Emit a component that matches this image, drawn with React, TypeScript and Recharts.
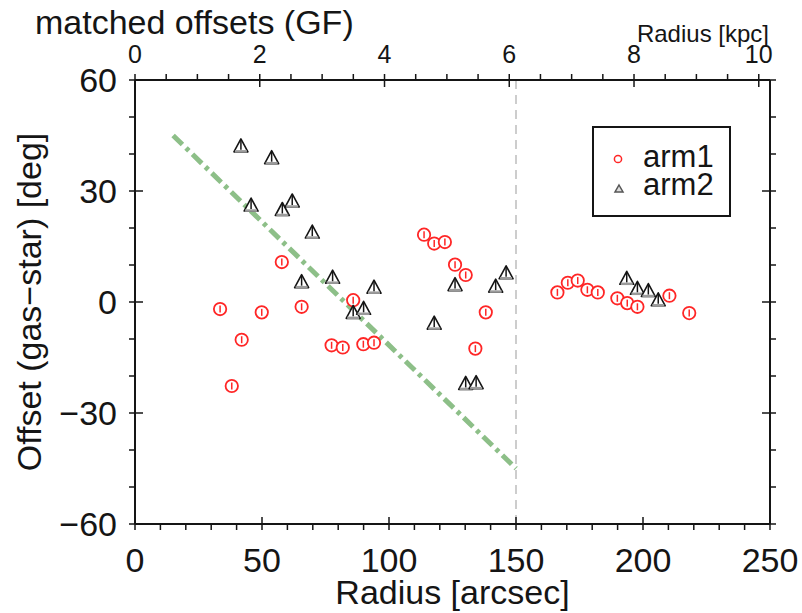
import React from 'react';
import { ScatterChart, Scatter, XAxis, YAxis, ReferenceLine, Legend, Label } from 'recharts';

const FONT = '"Liberation Sans", Arial, Helvetica, sans-serif';

// arm1 (red circles)
const arm1Radius = [
  33.5, 38.1, 42.0, 49.9, 57.8, 65.6, 77.4, 81.8, 85.9, 89.9, 94.1, 113.8, 117.8, 122.0,
  126.0, 130.2, 138.1, 134.0, 166.3, 170.4, 174.3, 178.1, 182.2, 189.9, 193.8, 197.8, 210.4, 218.2,
];
const arm1Offset = [
  -1.9, -22.7, -10.2, -2.8, 10.8, -1.3, -11.7, -12.3, 0.5, -11.4, -11.0, 18.2, 15.8, 16.2,
  10.1, 7.3, -2.8, -12.6, 2.6, 5.2, 5.8, 3.3, 2.6, 1.0, -0.3, -1.3, 1.7, -3.0,
];

// arm2 (black triangles)
const arm2Radius = [
  41.7, 45.7, 53.8, 58.0, 61.9, 69.8, 65.6, 77.8, 85.9, 90.0, 94.1, 117.8, 126.0, 130.2,
  134.3, 142.0, 146.1, 193.6, 197.8, 202.1, 206.0,
];
const arm2Offset = [
  42.2, 26.2, 39.0, 25.0, 27.3, 18.9, 5.5, 6.7, -2.8, -1.7, 4.0, -5.7, 4.7, -22.0,
  -21.8, 4.3, 7.9, 6.4, 3.7, 3.1, 0.6,
];

// green dash-dot guide and the dashed boundary
const fitLine = [
  { x: 15, y: 45 },
  { x: 150, y: -45 },
];
const boundaryRadius = 150;

// axes
const radiusTicks = [0, 10, 20, 30, 40, 50, 60, 70, 80, 90, 100, 110, 120, 130, 140, 150, 160, 170, 180, 190, 200, 210, 220, 230, 240, 250];
const radiusLabels = [0, 50, 100, 150, 200, 250];
const kpcTicks = [0, 0.5, 1, 1.5, 2, 2.5, 3, 3.5, 4, 4.5, 5, 5.5, 6, 6.5, 7, 7.5, 8, 8.5, 9, 9.5, 10];
const kpcLabels = [0, 2, 4, 6, 8, 10];
const kpcMax = 10.18;
const offsetTicks = [-60, -50, -40, -30, -20, -10, 0, 10, 20, 30, 40, 50, 60];
const offsetLabels = [-60, -30, 0, 30, 60];

const arm1 = arm1Radius.map((x, i) => ({ x, y: arm1Offset[i] }));
const arm2 = arm2Radius.map((x, i) => ({ x, y: arm2Offset[i] }));
// anchors the kpc axis (drawn as nothing)
const kpcAnchor = kpcLabels.map((k) => ({ k, y: 0 }));

const INK = '#151515';
const fmt = (v: number) => (v < 0 ? `\u2212${Math.abs(v)}` : `${v}`);

const BottomTick = ({ x, y, payload }: any) => {
  const major = radiusLabels.includes(payload.value);
  return (
    <g>
      <line x1={x} y1={y} x2={x} y2={y - (major ? 13 : 6)} stroke={INK} strokeWidth={1.5} />
      {major && (
        <text x={x} y={y + 42} textAnchor="middle" fontSize={34} fontFamily={FONT} fill={INK}>
          {payload.value}
        </text>
      )}
    </g>
  );
};

const TopTick = ({ x, y, payload }: any) => {
  const major = kpcLabels.includes(payload.value);
  return (
    <g>
      <line x1={x} y1={y} x2={x} y2={y + (major ? 13 : 6)} stroke={INK} strokeWidth={1.5} />
      {major && (
        <text x={x} y={y - 11} textAnchor="middle" fontSize={25} fontFamily={FONT} fill={INK}>
          {payload.value}
        </text>
      )}
    </g>
  );
};

const LeftTick = ({ x, y, payload }: any) => {
  const major = offsetLabels.includes(payload.value);
  return (
    <g>
      <line x1={x} y1={y} x2={x + (major ? 14 : 7)} y2={y} stroke={INK} strokeWidth={1.5} />
      {major && (
        <text x={x - 12} y={y + 12} textAnchor="end" fontSize={34} fontFamily={FONT} fill={INK}>
          {fmt(payload.value)}
        </text>
      )}
    </g>
  );
};

const RightTick = ({ x, y, payload }: any) => {
  const major = offsetLabels.includes(payload.value);
  return <line x1={x} y1={y} x2={x - (major ? 14 : 7)} y2={y} stroke={INK} strokeWidth={1.5} />;
};

const CircleMark = ({ cx, cy }: any) => (
  <g>
    <circle cx={cx} cy={cy} r={6.2} fill="#fff" stroke="#ff2626" strokeWidth={1.8} />
    <line x1={cx} y1={cy - 3.5} x2={cx} y2={cy + 3.5} stroke="#ff2626" strokeWidth={1.5} />
  </g>
);

const TriMark = ({ cx, cy }: any) => (
  <g>
    <polygon
      points={`${cx},${cy - 7} ${cx + 7},${cy + 6} ${cx - 7},${cy + 6}`}
      fill="#fff"
      stroke={INK}
      strokeWidth={1.6}
      strokeLinejoin="round"
    />
    <line x1={cx - 6} y1={cy + 5.5} x2={cx + 6} y2={cy + 5.5} stroke="#9a9a9a" strokeWidth={2.5} />
    <line x1={cx} y1={cy - 6} x2={cx} y2={cy + 4} stroke={INK} strokeWidth={1.5} />
  </g>
);

const Nothing = () => <g />;

const LegendBox = () => (
  <div
    style={{
      width: 139,
      height: 91,
      border: `2px solid ${INK}`,
      boxSizing: 'border-box',
      background: '#fff',
      position: 'relative',
    }}
  >
    <svg width={135} height={87} style={{ position: 'absolute', left: 0, top: 0 }}>
      <circle cx={24} cy={31} r={3.6} fill="none" stroke="#ff2626" strokeWidth={1.5} />
      <polygon points="25,57 29,64 21,64" fill="#ddd" stroke="#555" strokeWidth={1.5} />
      <text x={49} y={39} fontSize={31} fontFamily={FONT} fill={INK}>arm1</text>
      <text x={49} y={67} fontSize={31} fontFamily={FONT} fill={INK}>arm2</text>
    </svg>
  </div>
);

export default function App() {
  return (
    <div style={{ position: 'relative', width: 802, height: 613 }}>
      <style>{'body{margin:0;}'}</style>
      <div
        style={{
          position: 'absolute',
          left: 35,
          top: 5,
          fontSize: 34,
          lineHeight: 1,
          fontFamily: FONT,
          color: INK,
          zIndex: 2,
          whiteSpace: 'nowrap',
        }}
      >
        matched offsets (GF)
      </div>
      <ScatterChart width={802} height={613} margin={{ top: 0, right: 0, bottom: 0, left: 0 }}>
        <XAxis
          xAxisId="b"
          type="number"
          dataKey="x"
          domain={[0, 250]}
          ticks={radiusTicks}
          interval={0}
          height={89}
          tickLine={false}
          tickMargin={0}
          tick={<BottomTick />}
          axisLine={{ stroke: INK, strokeWidth: 2 }}
          allowDataOverflow
        >
          <Label
            value="Radius [arcsec]"
            position="insideBottom"
            offset={9}
            style={{ fontSize: 34, fontFamily: FONT, fill: INK }}
          />
        </XAxis>
        <XAxis
          xAxisId="t"
          orientation="top"
          type="number"
          dataKey="k"
          domain={[0, kpcMax]}
          ticks={kpcTicks}
          interval={0}
          height={80}
          tickLine={false}
          tickMargin={0}
          tick={<TopTick />}
          axisLine={{ stroke: INK, strokeWidth: 2 }}
          allowDataOverflow
        >
          <Label
            value="Radius [kpc]"
            position="insideRight"
            offset={1}
            dy={-7}
            style={{ fontSize: 24, fontFamily: FONT, fill: INK }}
          />
        </XAxis>
        <YAxis
          yAxisId="l"
          type="number"
          dataKey="y"
          domain={[-60, 60]}
          ticks={offsetTicks}
          interval={0}
          width={135}
          tickLine={false}
          tickMargin={0}
          tick={<LeftTick />}
          axisLine={{ stroke: INK, strokeWidth: 2 }}
          allowDataOverflow
        >
          <Label
            value={'Offset (gas\u2212star) [deg]'}
            angle={-90}
            position="insideLeft"
            offset={29}
            style={{ textAnchor: 'middle', fontSize: 34, fontFamily: FONT, fill: INK }}
          />
        </YAxis>
        <YAxis
          yAxisId="r"
          orientation="right"
          type="number"
          dataKey="y"
          domain={[-60, 60]}
          ticks={offsetTicks}
          interval={0}
          width={32}
          tickLine={false}
          tickMargin={0}
          tick={<RightTick />}
          axisLine={{ stroke: INK, strokeWidth: 2 }}
          allowDataOverflow
        />
        <ReferenceLine
          xAxisId="b"
          yAxisId="l"
          x={boundaryRadius}
          stroke="#bdbdbd"
          strokeWidth={1.5}
          strokeDasharray="9 6"
        />
        <ReferenceLine
          xAxisId="b"
          yAxisId="l"
          segment={fitLine}
          stroke="#8dbf88"
          strokeWidth={5}
          strokeDasharray="13 5 4 5"
        />
        <Scatter
          name="kpc"
          data={kpcAnchor}
          xAxisId="t"
          yAxisId="r"
          shape={<Nothing />}
          legendType="none"
          isAnimationActive={false}
        />
        <Scatter
          name="arm1"
          data={arm1}
          xAxisId="b"
          yAxisId="l"
          shape={<CircleMark />}
          isAnimationActive={false}
        />
        <Scatter
          name="arm2"
          data={arm2}
          xAxisId="b"
          yAxisId="l"
          shape={<TriMark />}
          isAnimationActive={false}
        />
        <Legend
          layout="horizontal"
          verticalAlign="middle"
          align="center"
          content={<LegendBox />}
          wrapperStyle={{ left: 592, top: 126, width: 139, height: 91 }}
        />
      </ScatterChart>
    </div>
  );
}
